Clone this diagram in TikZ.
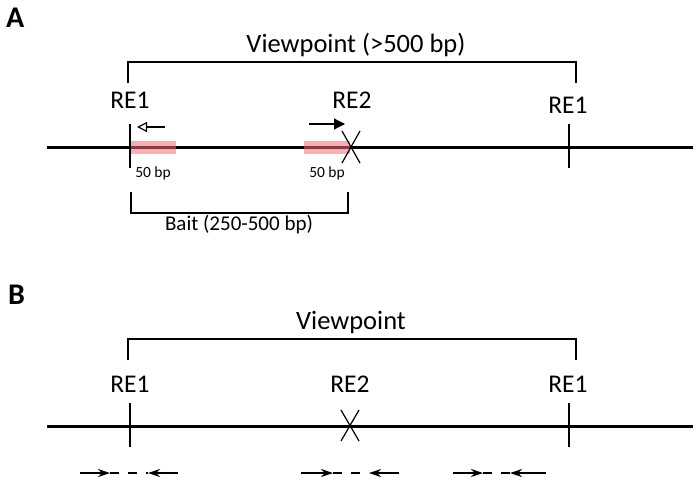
\documentclass[tikz,border=0pt]{standalone}
\usepackage{fontspec}
\setmainfont{Carlito}
\usetikzlibrary{arrows.meta}
\definecolor{baitpink}{RGB}{240,110,120}
\tikzset{
  lbl/.style={anchor=base,inner sep=0pt,font=\fontsize{25.5}{30}\selectfont},
  vlbl/.style={anchor=base,inner sep=0pt,font=\fontsize{26.5}{30}\selectfont},
  small/.style={anchor=base,inner sep=0pt,font=\fontsize{15.5}{18}\selectfont},
  mid/.style={anchor=base,inner sep=0pt,font=\fontsize{21}{24}\selectfont},
  panel/.style={anchor=base west,inner sep=0pt,font=\fontsize{30}{34}\selectfont\bfseries},
  dna/.style={line width=3pt},
  thin/.style={line width=1.2pt},
  brk/.style={line width=1.2pt},
  pinkbox/.style={fill=baitpink,fill opacity=0.55,draw=none},
  fwd/.style={line width=1.2pt,-{Stealth[length=12pt,width=8pt]}},
  rev/.style={line width=1.2pt,-{Stealth[length=12pt,width=8pt]}},
  gap/.style={line width=1.2pt,dash pattern=on 9pt off 9pt}
}
\begin{document}
\begin{tikzpicture}[x=1pt,y=-1pt]
\useasboundingbox (0,0) rectangle (700,483);
% ---------- Panel A ----------
\node[panel] (pA) at (6,27) {A};
\node[vlbl] (vpA) at (356,52) {Viewpoint (>500 bp)};
\coordinate (vA1) at (128,83); \coordinate (vA2) at (128,62);
\coordinate (vA3) at (576,62); \coordinate (vA4) at (576,83);
\draw[brk] (vA1) -- (vA2) -- (vA3) -- (vA4);
\node[lbl] (reA1) at (130,108.5) {RE1};
\node[lbl] (reA2) at (352,108.5) {RE2};
\node[lbl] (reA3) at (568,113.5) {RE1};
\coordinate (lA1) at (47,147); \coordinate (lA2) at (693,147);
\draw[dna] (lA1) -- (lA2);
\fill[pinkbox] (130,140.5) rectangle (176,153.5);
\fill[pinkbox] (304,140.5) rectangle (350,153.5);
\coordinate (tA1a) at (130,124); \coordinate (tA1b) at (130,168);
\draw[thin] (tA1a) -- (tA1b);
\coordinate (tA3a) at (569,124); \coordinate (tA3b) at (569,168);
\draw[thin] (tA3a) -- (tA3b);
\coordinate (xA1) at (342,131); \coordinate (xA2) at (360,163);
\coordinate (xA3) at (360,131); \coordinate (xA4) at (342,163);
\draw[thin] (xA1) -- (xA2); \draw[thin] (xA3) -- (xA4);
\coordinate (aoA1) at (165,127); \coordinate (aoA2) at (137,127);
\draw[line width=1.2pt,-{Triangle[open,length=10pt,width=10pt]}] (aoA1) -- (aoA2);
\coordinate (afA1) at (309,124); \coordinate (afA2) at (345,124);
\draw[line width=1.2pt,-{Triangle[length=11pt,width=11pt]}] (afA1) -- (afA2);
\node[small] (bpA1) at (153,177) {50 bp};
\node[small] (bpA2) at (327,177) {50 bp};
\coordinate (bA1) at (131,192); \coordinate (bA2) at (131,213);
\coordinate (bA3) at (348,213); \coordinate (bA4) at (348,192);
\draw[brk] (bA1) -- (bA2) -- (bA3) -- (bA4);
\node[mid] (bait) at (239,230) {Bait (250-500 bp)};
% ---------- Panel B ----------
\node[panel] (pB) at (8,304) {B};
\node[vlbl] (vpB) at (351,329) {Viewpoint};
\coordinate (vB1) at (128,360); \coordinate (vB2) at (128,339);
\coordinate (vB3) at (576,339); \coordinate (vB4) at (576,360);
\draw[brk] (vB1) -- (vB2) -- (vB3) -- (vB4);
\node[lbl] (reB1) at (130,392.5) {RE1};
\node[lbl] (reB2) at (350,392.5) {RE2};
\node[lbl] (reB3) at (568,392.5) {RE1};
\coordinate (lB1) at (47,426); \coordinate (lB2) at (693,426);
\draw[dna] (lB1) -- (lB2);
\coordinate (tB1a) at (130,403); \coordinate (tB1b) at (130,447);
\draw[thin] (tB1a) -- (tB1b);
\coordinate (tB3a) at (569,403); \coordinate (tB3b) at (569,447);
\draw[thin] (tB3a) -- (tB3b);
\coordinate (xB1) at (341,410); \coordinate (xB2) at (359,441);
\coordinate (xB3) at (359,410); \coordinate (xB4) at (341,441);
\draw[thin] (xB1) -- (xB2); \draw[thin] (xB3) -- (xB4);
% primer pairs
\foreach \a/\b/\c/\d [count=\i] in {80/110/148/178, 301/333/369/399, 453/483/510/546}{
  \coordinate (p\i a) at (\a,473); \coordinate (p\i b) at (\b,473);
  \coordinate (p\i c) at (\c,473); \coordinate (p\i d) at (\d,473);
  \draw[fwd] (p\i a) -- (p\i b);
  \draw[gap] (p\i b) -- (p\i c);
  \draw[rev] (p\i d) -- (p\i c);
}
\end{tikzpicture}
\end{document}
